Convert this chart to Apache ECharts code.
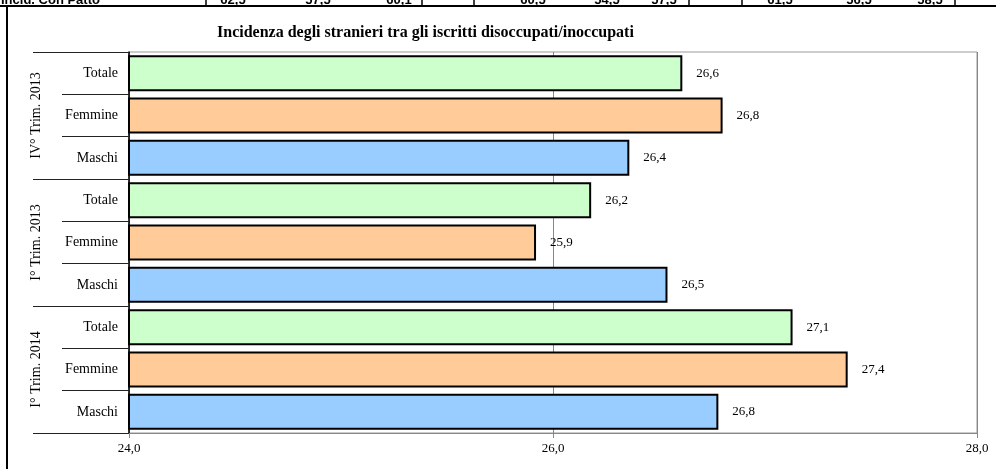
<!DOCTYPE html>
<html>
<head>
<meta charset="utf-8">
<script src="https://cdn.jsdelivr.net/npm/echarts@6/dist/echarts.min.js"></script>
<style>
html,body{margin:0;padding:0;background:#fff;}
#chart{width:996px;height:469px;}
</style>
</head>
<body>
<div id="chart"></div>
<script>
// ---- data ----
const chartTitle = 'Incidenza degli stranieri tra gli iscritti disoccupati/inoccupati';
const groups = ['IV° Trim. 2013', 'I° Trim. 2013', 'I° Trim. 2014'];
const subCategories = ['Totale', 'Femmine', 'Maschi'];
const categoryIds = ['IV13-T', 'IV13-F', 'IV13-M', 'I13-T', 'I13-F', 'I13-M', 'I14-T', 'I14-F', 'I14-M'];
const categoryLabels = ['Totale', 'Femmine', 'Maschi', 'Totale', 'Femmine', 'Maschi', 'Totale', 'Femmine', 'Maschi'];
const values = [26.61, 26.80, 26.36, 26.18, 25.92, 26.54, 27.13, 27.39, 26.78];
const subColors = ['#CCFFCC', '#FFCC99', '#99CCFF'];
const xTicks = [24, 26, 28];
// partial table row visible at the top edge
const stripLabel = 'Incid. Con Patto';
const stripValues = ['62,5', '57,5', '60,1', '60,5', '54,5', '57,5', '61,5', '56,5', '58,5'];

const fmt = v => v.toFixed(1).replace('.', ',');
const serif = '"Liberation Serif", "Times New Roman", serif';

const chart = echarts.init(document.getElementById('chart'), null, {renderer: 'canvas'});

const barData = values.map((v, i) => ({
  value: v,
  itemStyle: {color: subColors[i % 3]}
}));

// strip graphics
const stripX = [233, 318, 399, 533, 607, 664, 780, 859, 930];
const sepX = [206, 422, 474, 689, 742, 955];
const stripFont = 'bold 13px "Liberation Sans", Arial, sans-serif';
const graphics = [];
graphics.push({type: 'text', x: 1, y: -6, silent: true,
  style: {text: stripLabel, font: stripFont, fill: '#000', align: 'left', verticalAlign: 'top'}});
stripValues.forEach((t, i) => {
  graphics.push({type: 'text', x: stripX[i], y: -6, silent: true,
    style: {text: t, font: stripFont, fill: '#000', align: 'center', verticalAlign: 'top'}});
});
sepX.forEach(x => {
  graphics.push({type: 'line', silent: true, shape: {x1: x, y1: 0, x2: x, y2: 6}, style: {stroke: '#000', lineWidth: 1.5}});
});
graphics.push({type: 'line', silent: true, shape: {x1: 0, y1: 6, x2: 996, y2: 6}, style: {stroke: '#000', lineWidth: 2}});
graphics.push({type: 'line', silent: true, shape: {x1: 7, y1: 6, x2: 7, y2: 469}, style: {stroke: '#000', lineWidth: 2}});

const option = {
  animation: false,
  backgroundColor: '#fff',
  title: {
    text: chartTitle,
    left: 212, top: 20,
    textStyle: {fontFamily: serif, fontWeight: 'bold', fontSize: 16, color: '#000'}
  },
  graphic: graphics,
  grid: {left: 129, right: 19, top: 52, bottom: 36, show: true, borderColor: '#999', borderWidth: 1, backgroundColor: 'transparent'},
  xAxis: {
    type: 'value', min: xTicks[0], max: xTicks[xTicks.length - 1], interval: 2,
    axisLine: {show: true, lineStyle: {color: '#888', width: 1}},
    axisTick: {show: true, length: 5, lineStyle: {color: '#888'}},
    axisLabel: {formatter: fmt, fontFamily: serif, fontSize: 13, color: '#000', margin: 9},
    splitLine: {show: true, lineStyle: {color: '#888', width: 1}}
  },
  yAxis: [
    {
      type: 'category', inverse: true, data: categoryIds,
      axisLine: {show: true, lineStyle: {color: '#000', width: 1.5}},
      axisTick: {show: true, length: 67, interval: 0, lineStyle: {color: '#222', width: 1}},
      axisLabel: {formatter: (v, i) => categoryLabels[i], fontFamily: serif, fontSize: 14, color: '#000', margin: 11, interval: 0}
    },
    {
      type: 'category', inverse: true, data: groups, position: 'left',
      axisLine: {show: false},
      axisTick: {show: true, length: 96, interval: 0, lineStyle: {color: '#222', width: 1}},
      axisLabel: {rotate: 90, fontFamily: serif, fontSize: 14, color: '#000', margin: 93, align: 'center', verticalAlign: 'middle', interval: 0}
    }
  ],
  series: [{
    type: 'bar',
    yAxisIndex: 0,
    data: barData,
    barCategoryGap: '15%',
    itemStyle: {borderColor: '#000', borderWidth: 2},
    label: {show: true, position: 'right', distance: 14, formatter: p => fmt(p.value), fontFamily: serif, fontSize: 13, color: '#000'}
  }]
};
chart.setOption(option);
</script>
</body>
</html>
